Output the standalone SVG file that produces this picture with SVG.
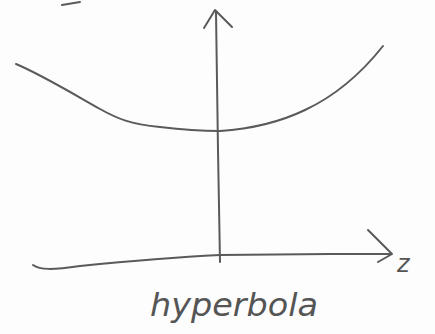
<svg xmlns="http://www.w3.org/2000/svg" width="435" height="334" viewBox="0 0 435 334">
<style>
.s{fill:none;stroke:#5a5a5a;stroke-width:2;stroke-linecap:round;stroke-linejoin:round}
.t{font-family:"DejaVu Sans",sans-serif;font-style:italic;fill:#555}
</style>
<rect width="435" height="334" fill="#fdfdfd"/>
<g id="connectors">
<path class="s" d="M62 5 L80 2"/>
<path id="curve" class="s" d="M16 64 C40 74 70 92 100 109 C118 119 130 124 160 127 C185 130 205 131 220 131 C250 129 280 122 305 110 C335 96 360 75 383 46"/>
<path id="v-axis" class="s" d="M220 262 L218 150 L216 12"/>
<path id="v-head" class="s" d="M204 28 L215 10 L232 27"/>
<path id="h-axis" class="s" d="M33 265 C40 270 52 270 80 266 C130 261 180 257 220 255 L330 254 L391 254"/>
<path id="h-head" class="s" d="M368 230 L392 254 L378 262"/>
</g>
<g id="label-z"><text class="t" x="397" y="272" font-size="24">z</text></g>
<g id="label-hyperbola"><text class="t" x="150" y="316" font-size="32" textLength="168" lengthAdjust="spacingAndGlyphs">hyperbola</text></g>
</svg>
